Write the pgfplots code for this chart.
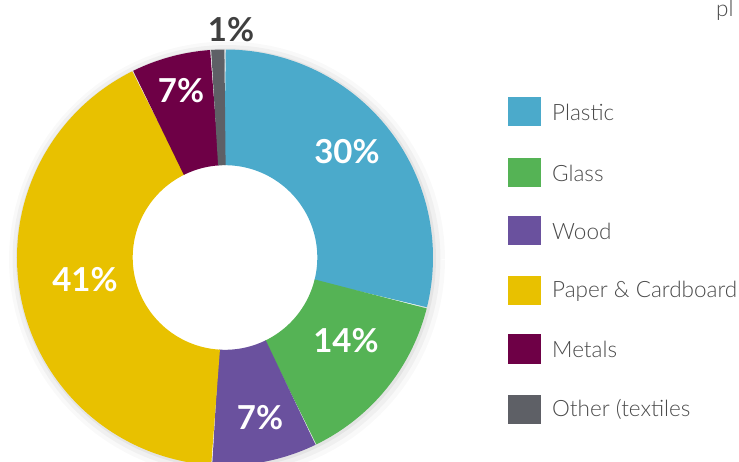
\documentclass[border=0pt]{standalone}
\usepackage{fontspec}
\setmainfont{Lato}
\IfFontExistsTF{Lato Light}{\newfontfamily\lightfont{Lato Light}}{\newfontfamily\lightfont{Lato}}
\usepackage{pgfplots}
\pgfplotsset{compat=1.18}
\definecolor{cPlastic}{HTML}{4BAACB}
\definecolor{cGlass}{HTML}{55B355}
\definecolor{cWood}{HTML}{6A519E}
\definecolor{cPaper}{HTML}{E8C100}
\definecolor{cMetals}{HTML}{6E0046}
\definecolor{cOther}{HTML}{5E6066}
\definecolor{txt}{HTML}{4A4A4A}
% shares (percent) as drawn, clockwise from the top
\def\pPlastic{28.9}
\def\pGlass{13.9}
\def\pWood{8.2}
\def\pPaper{41.7}
\def\pMetals{6.2}
\def\pOther{1.1}
\def\cx{225}
\def\cy{203.5}
\def\rm{150.15}
\newcommand\legitem[3]{%
  \fill[#1] (axis cs:508,{461-#3-14.5}) rectangle (axis cs:541,{461-#3+14.5});
  \node[anchor=west, text=txt, inner sep=0pt, font=\lightfont\fontsize{22.5}{22.5}\selectfont] at (axis cs:552,{461-#3}) {#2};
}
\begin{document}
\begin{tikzpicture}
\begin{axis}[
  scale only axis, width=739pt, height=461pt,
  xmin=0, xmax=739, ymin=0, ymax=461,
  axis lines=none, clip=true,
  trig format plots=deg,
]
% soft outer shadow
\addplot[domain=0:360, samples=120, line width=26pt, black, opacity=0.025]
  ({\cx+2+205*cos(x)}, {\cy-2+205*sin(x)});
\addplot[domain=0:360, samples=120, line width=18pt, black, opacity=0.035]
  ({\cx+1.5+205*cos(x)}, {\cy-1.5+205*sin(x)});
\addplot[domain=0:360, samples=120, line width=10pt, black, opacity=0.05]
  ({\cx+1+205*cos(x)}, {\cy-1+205*sin(x)});
% ring segments
\addplot[domain={90-3.6*(\pPlastic)}:90, samples=80, line width=115.7pt, cPlastic]
  ({\cx+\rm*cos(x)}, {\cy+\rm*sin(x)});
\addplot[domain={90-3.6*(\pPlastic+\pGlass)}:{90-3.6*(\pPlastic)}, samples=60, line width=115.7pt, cGlass]
  ({\cx+\rm*cos(x)}, {\cy+\rm*sin(x)});
\addplot[domain={90-3.6*(\pPlastic+\pGlass+\pWood)}:{90-3.6*(\pPlastic+\pGlass)}, samples=40, line width=115.7pt, cWood]
  ({\cx+\rm*cos(x)}, {\cy+\rm*sin(x)});
\addplot[domain={90-3.6*(\pPlastic+\pGlass+\pWood+\pPaper)}:{90-3.6*(\pPlastic+\pGlass+\pWood)}, samples=100, line width=115.7pt, cPaper]
  ({\cx+\rm*cos(x)}, {\cy+\rm*sin(x)});
\addplot[domain={90-3.6*(\pPlastic+\pGlass+\pWood+\pPaper+\pMetals)}:{90-3.6*(\pPlastic+\pGlass+\pWood+\pPaper)}, samples=40, line width=115.7pt, cMetals]
  ({\cx+\rm*cos(x)}, {\cy+\rm*sin(x)});
\addplot[domain={90-3.6*(100)}:{90-3.6*(\pPlastic+\pGlass+\pWood+\pPaper+\pMetals)}, samples=10, line width=115.7pt, cOther]
  ({\cx+\rm*cos(x)}, {\cy+\rm*sin(x)});
% value labels
\node[white, font=\fontsize{33}{33}\selectfont\bfseries] at (axis cs:347,309) {30\%};
\node[white, font=\fontsize{33}{33}\selectfont\bfseries] at (axis cs:346,120) {14\%};
\node[white, font=\fontsize{33}{33}\selectfont\bfseries] at (axis cs:260,43) {7\%};
\node[white, font=\fontsize{33}{33}\selectfont\bfseries] at (axis cs:85,181) {41\%};
\node[white, font=\fontsize{33}{33}\selectfont\bfseries] at (axis cs:181,370) {7\%};
\node[color=txt!85!black, font=\fontsize{33}{33}\selectfont\bfseries] at (axis cs:231,431) {1\%};
% legend
\legitem{cPlastic}{Plastic}{112}
\legitem{cGlass}{Glass}{173}
\legitem{cWood}{Wood}{231}
\legitem{cPaper}{Paper \& Cardboard}{291}
\legitem{cMetals}{Metals}{349}
\legitem{cOther}{Other (textiles}{409}
\node[anchor=base west, text=txt, inner sep=0pt, font=\lightfont\fontsize{22.5}{22.5}\selectfont] at (axis cs:716,444) {pl};
\end{axis}
\pgfresetboundingbox
\useasboundingbox (current axis.south west) rectangle (current axis.north east);
\end{tikzpicture}
\end{document}
